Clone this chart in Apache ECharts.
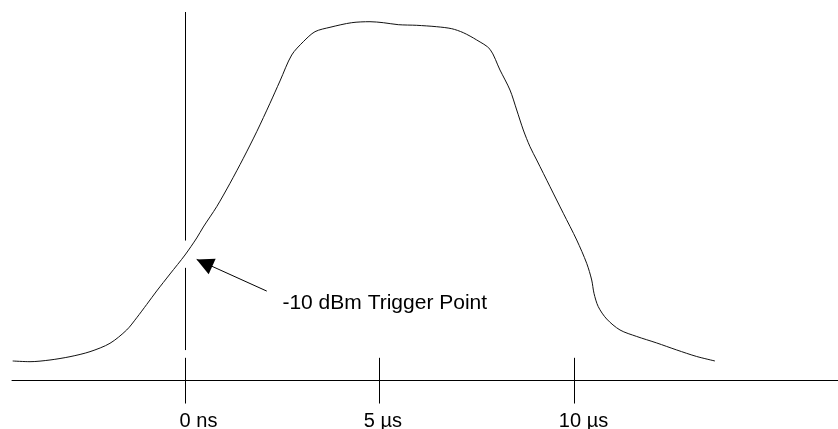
<!DOCTYPE html>
<html>
<head>
<meta charset="utf-8">
<script src="https://cdn.jsdelivr.net/npm/echarts@6/dist/echarts.min.js"></script>
<style>
html,body{margin:0;padding:0;background:#ffffff;}
#chart{width:838px;height:429px;}
</style>
</head>
<body>
<div id="chart"></div>
<script>
// ---- data (time in microseconds, level in relative units) ----
const pulseTimes = [
  -4.426, -3.981, -3.468, -2.954, -2.440, -1.927, -1.498, -1.241, -0.984, -0.727,
  -0.385, 0.000, 0.301, 0.470, 0.814, 1.156, 1.498, 1.842, 2.183, 2.440,
  2.741, 3.039, 3.339, 3.725, 4.282, 4.752, 5.094, 5.479, 5.952, 6.465,
  6.851, 7.149, 7.493, 7.835, 8.091, 8.348, 8.521, 8.690, 8.862, 9.034,
  9.376, 9.718, 10.062, 10.318, 10.447, 10.506, 10.616, 10.832, 11.174, 11.603,
  12.117, 12.630, 13.144, 13.614
];
const pulseLevels = [
  5.34, 5.15, 5.61, 6.51, 7.87, 10.14, 13.75, 17.06, 20.67, 24.33,
  28.94, 34.09, 38.70, 41.69, 47.19, 53.54, 60.32, 67.53, 75.24, 81.29,
  88.34, 91.94, 94.66, 95.85, 97.10, 97.37, 97.10, 96.56, 96.39, 96.01,
  95.47, 94.39, 92.41, 89.88, 84.27, 78.84, 73.42, 68.00, 63.47, 59.86,
  52.62, 45.40, 38.16, 31.84, 27.31, 23.70, 20.07, 16.73, 13.75, 11.99,
  10.23, 8.33, 6.56, 5.34
];
const tickValues = [0, 5, 10];
const tickLabels = ['0 ns', '5 \u00b5s', '10 \u00b5s'];
const tickLabelLevel = -11.0;
const tickHalfLength = 6.2;
const triggerTime = 0;
const triggerMarkerSegments = [[100, 38.0], [30.6, 8.3]];
const arrowTail = [2.10, 24.3];
const arrowTip = [0.30, 32.9];
const annotationText = '-10 dBm Trigger Point';
const annotationAnchor = [2.49, 20.9];

// ---- chart ----
const FONT = 'Arial, "Liberation Sans", Helvetica, sans-serif';
const INK = '#000000';

const curveData = pulseTimes.map((t, i) => [t, pulseLevels[i]]);

const lineStyleBase = { color: INK, width: 1, type: 'solid' };
const markLineData = [];
triggerMarkerSegments.forEach(seg => {
  markLineData.push([
    { coord: [triggerTime, seg[0]], symbol: 'none' },
    { coord: [triggerTime, seg[1]], symbol: 'none' }
  ]);
});
tickValues.forEach(v => {
  markLineData.push([
    { coord: [v, tickHalfLength], symbol: 'none' },
    { coord: [v, -tickHalfLength], symbol: 'none' }
  ]);
});
markLineData.push([
  { coord: arrowTail, symbol: 'none' },
  { coord: arrowTip, symbol: 'triangle', symbolSize: [17, 17], symbolOffset: [0, 8.5] }
]);

// text marks, anchored to data coordinates
const labelShiftPx = [13.5, 3.2, 9.2];
const markPointData = [{
  coord: annotationAnchor,
  value: 0,
  label: {
    show: true, position: 'right', distance: 0,
    fontFamily: FONT, fontSize: 21, color: INK,
    formatter: annotationText
  }
}];
tickValues.forEach((v, i) => {
  markPointData.push({
    coord: [v, tickLabelLevel],
    value: 0,
    label: {
      show: true, position: 'inside', align: 'center', verticalAlign: 'middle',
      offset: [labelShiftPx[i], 0],
      fontFamily: FONT, fontSize: 20, color: INK,
      formatter: tickLabels[i]
    }
  });
});

const chart = echarts.init(document.getElementById('chart'), null, { renderer: 'canvas' });
chart.setOption({
  animation: false,
  backgroundColor: '#ffffff',
  grid: { left: 12, right: 0, top: 12, bottom: 0.4, containLabel: false, outerBoundsMode: 'none' },
  xAxis: {
    type: 'value',
    min: -4.444,
    max: 16.774,
    axisLine: { show: true, onZero: true, lineStyle: { color: INK, width: 1 } },
    axisTick: { show: false },
    splitLine: { show: false },
    axisLabel: { show: false }
  },
  yAxis: {
    type: 'value',
    min: -13,
    max: 100,
    show: false,
    splitLine: { show: false }
  },
  series: [{
    type: 'line',
    data: curveData,
    smooth: 0.3,
    showSymbol: false,
    symbol: 'none',
    silent: true,
    clip: false,
    lineStyle: { color: '#111111', width: 1 },
    markLine: {
      silent: true,
      symbol: ['none', 'none'],
      label: { show: false },
      emphasis: { disabled: true },
      lineStyle: lineStyleBase,
      itemStyle: { color: INK },
      data: markLineData
    },
    markPoint: {
      silent: true,
      symbol: 'rect',
      symbolSize: 1,
      itemStyle: { color: 'rgba(0,0,0,0)' },
      emphasis: { disabled: true },
      data: markPointData
    }
  }]
});
</script>
</body>
</html>
